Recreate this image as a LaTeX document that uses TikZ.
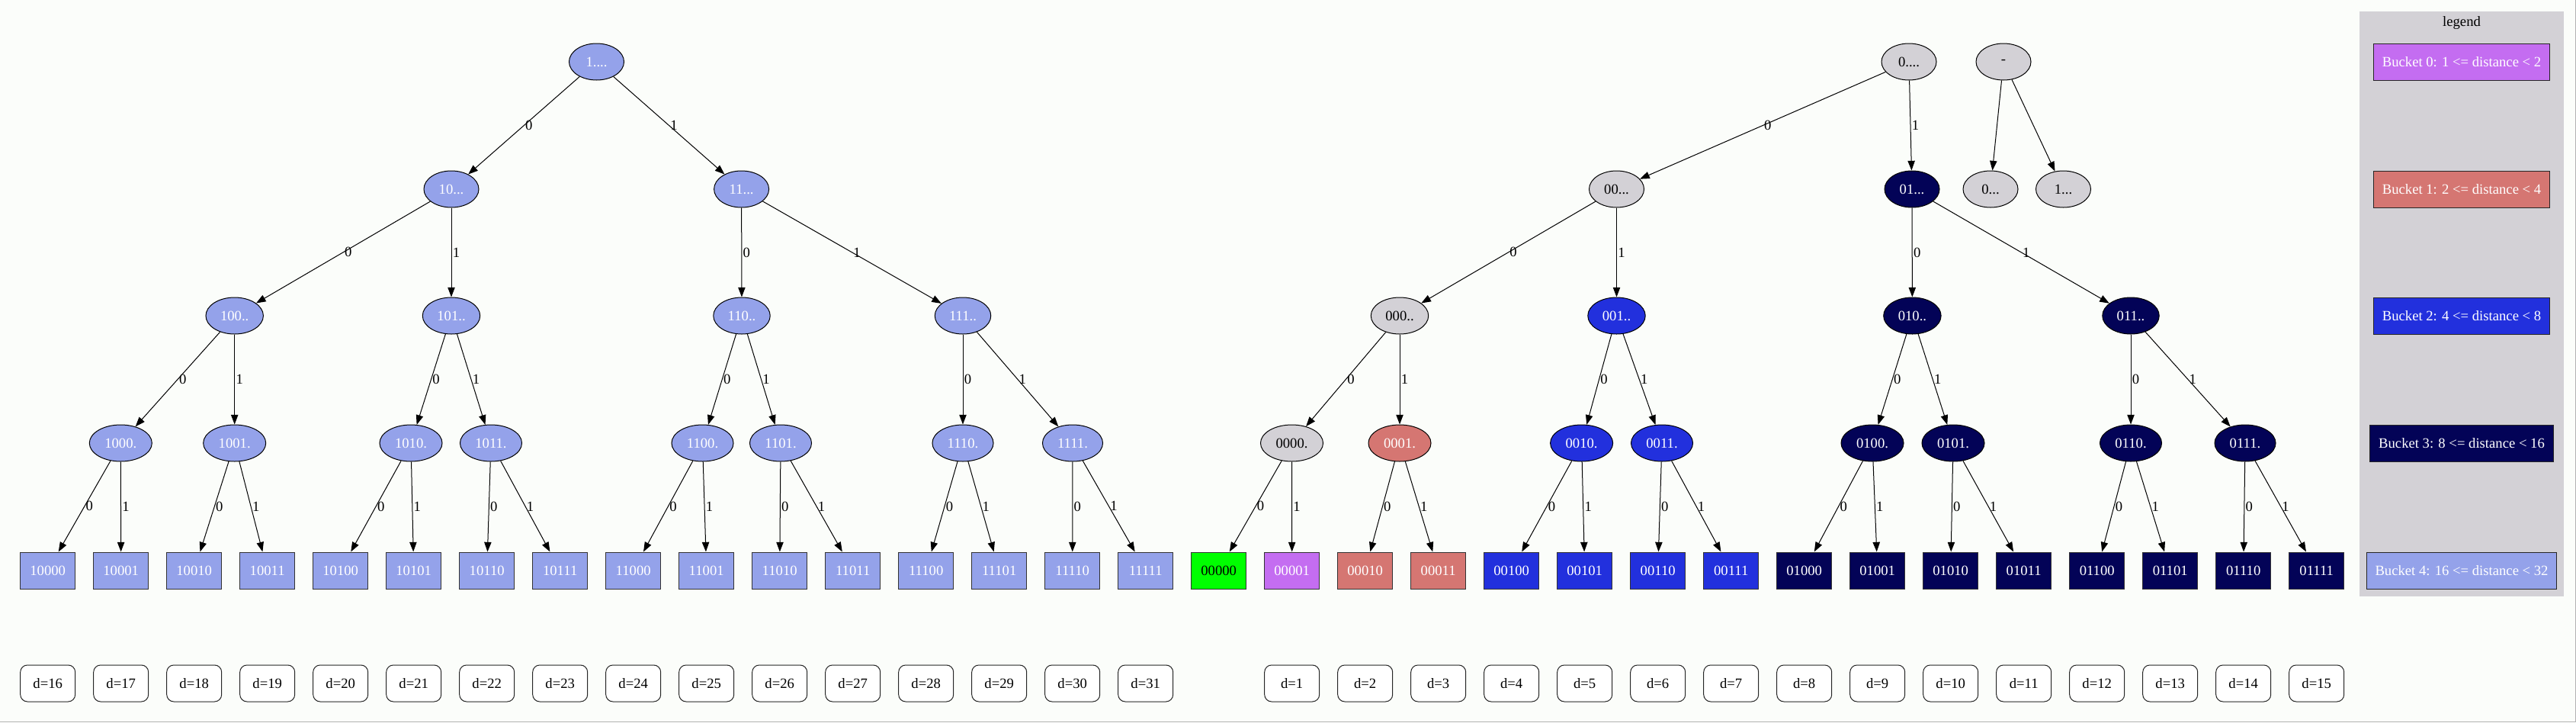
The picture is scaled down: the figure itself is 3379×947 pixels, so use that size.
\documentclass[tikz,border=0pt]{standalone}
\usepackage{fontspec}
\setmainfont{Liberation Serif}
\usetikzlibrary{shapes.geometric,arrows.meta}

\definecolor{pagebg}{HTML}{FBFDFA}
\definecolor{prefgray}{HTML}{D3D1D6}
\definecolor{bkfour}{HTML}{94A2EA}
\definecolor{bkthree}{HTML}{030357}
\definecolor{bktwo}{HTML}{2230DD}
\definecolor{bkone}{HTML}{D57672}
\definecolor{bkzero}{HTML}{C46DF1}
\definecolor{bkgreen}{HTML}{00FF00}

\begin{document}
\begin{tikzpicture}[x=0.75pt,y=-0.75pt,line width=0.75pt,
  >={Triangle[length=9.5pt,width=7pt]},
  every node/.style={font=\fontsize{14}{16}\selectfont},
  pref/.style={ellipse,draw,minimum width=54pt,minimum height=36pt,inner xsep=6pt,inner ysep=2pt},
  leaf/.style={rectangle,draw=black!80,minimum width=54pt,minimum height=36pt,inner sep=2pt},
  dist/.style={rectangle,rounded corners=7pt,draw=black!85,fill=white,minimum width=54pt,minimum height=36pt},
  bucket/.style={rectangle,draw=black!85,minimum height=36pt,inner xsep=8.5pt,text=white},
  lbl/.style={right,inner sep=1pt},
  grey/.style={fill=prefgray,text=black},
  blue4/.style={fill=bkfour,text=white},
  blue3/.style={fill=bkthree,text=white},
  blue2/.style={fill=bktwo,text=white},
  red1/.style={fill=bkone,text=white}]

% Page, frame
\fill[pagebg] (0,0) rectangle (3379,947);
\useasboundingbox (0,0) rectangle (3379,947);
\draw[black!30] (0,946) -- (3378,946) -- (3378,0);

% Legend
\fill[prefgray] (3095,15) rectangle (3363,782);
\node (legend) at (3229,30) {legend};
\node[bucket,fill=bkzero] (bkt0) at (3229,81.5) {Bucket 0: 1 <= distance < 2};
\node[bucket,fill=bkone] (bkt1) at (3229,248) {Bucket 1: 2 <= distance < 4};
\node[bucket,fill=bktwo] (bkt2) at (3229,414) {Bucket 2: 4 <= distance < 8};
\node[bucket,fill=bkthree] (bkt3) at (3229,581) {Bucket 3: 8 <= distance < 16};
\node[bucket,fill=bkfour] (bkt4) at (3229,748) {Bucket 4: 16 <= distance < 32};

% Prefix tree 1
\node[pref,blue4] (p1) at (782.5,81) {1....};
\node[pref,blue4] (p10) at (592,248) {10...};
\node[pref,blue4] (p11) at (972.6,248) {11...};
\node[pref,blue4] (p100) at (307.7,414) {100..};
\node[pref,blue4] (p101) at (592,414) {101..};
\node[pref,blue4] (p110) at (973,414) {110..};
\node[pref,blue4] (p111) at (1263,414) {111..};
\node[pref,blue4] (p1000) at (158.3,581) {1000.};
\node[pref,blue4] (p1001) at (307.7,581) {1001.};
\node[pref,blue4] (p1010) at (539,581) {1010.};
\node[pref,blue4] (p1011) at (644,581) {1011.};
\node[pref,blue4] (p1100) at (921.5,581) {1100.};
\node[pref,blue4] (p1101) at (1024,581) {1101.};
\node[pref,blue4] (p1110) at (1263,581) {1110.};
\node[pref,blue4] (p1111) at (1407,581) {1111.};

% Prefix tree 0
\node[pref,grey] (p0) at (2504,81) {0....};
\node[pref,grey] (p00) at (2120.5,248) {00...};
\node[pref,blue3] (p01) at (2508,248) {01...};
\node[pref,grey] (p000) at (1836,414) {000..};
\node[pref,blue2] (p001) at (2120.5,414) {001..};
\node[pref,blue3] (p010) at (2508.4,414) {010..};
\node[pref,blue3] (p011) at (2795,414) {011..};
\node[pref,grey] (p0000) at (1694.5,581) {0000.};
\node[pref,red1] (p0001) at (1836,581) {0001.};
\node[pref,blue2] (p0010) at (2074.6,581) {0010.};
\node[pref,blue2] (p0011) at (2180,581) {0011.};
\node[pref,blue3] (p0100) at (2456,581) {0100.};
\node[pref,blue3] (p0101) at (2562,581) {0101.};
\node[pref,blue3] (p0110) at (2795,581) {0110.};
\node[pref,blue3] (p0111) at (2945,581) {0111.};

% Root
\node[pref,grey] (root) at (2628,81) {-};
\node[pref,grey] (q0) at (2611,248) {0...};
\node[pref,grey] (q1) at (2706.5,248) {1...};
\draw[->] (root) -- (q0);
\draw[->] (root) -- (q1);

% Leaves
\foreach \b [count=\i from 0] in {0000,0001,0010,0011,0100,0101,0110,0111,1000,1001,1010,1011,1100,1101,1110,1111}
  \node[leaf,blue4] (l1\b) at ({62.7+96*\i},748) {1\b};
\foreach \b/\c/\t [count=\i from 16] in {0000/bkgreen/black,0001/bkzero/white,0010/bkone/white,0011/bkone/white,
    0100/bktwo/white,0101/bktwo/white,0110/bktwo/white,0111/bktwo/white,
    1000/bkthree/white,1001/bkthree/white,1010/bkthree/white,1011/bkthree/white,
    1100/bkthree/white,1101/bkthree/white,1110/bkthree/white,1111/bkthree/white}
  \node[leaf,fill=\c,text=\t] (l0\b) at ({62.7+96*\i},748) {0\b};

% Distances
\foreach \i [evaluate=\i as \d using {int(mod(\i+16,32))}] in {0,...,15,17,18,...,31}
  \node[dist] (d\d) at ({62.7+96*\i},896) {d=\d};

% Edges
\foreach \s in {1,10,11,100,101,110,111,0,00,01,000,001,010,011} {
  \draw[->] (p\s) -- node[lbl] {0} (p\s0);
  \draw[->] (p\s) -- node[lbl] {1} (p\s1);
}
\foreach \s in {1000,1001,1010,1011,1100,1101,1110,1111,0000,0001,0010,0011,0100,0101,0110,0111} {
  \draw[->] (p\s) -- node[lbl] {0} (l\s0);
  \draw[->] (p\s) -- node[lbl] {1} (l\s1);
}
\end{tikzpicture}
\end{document}
